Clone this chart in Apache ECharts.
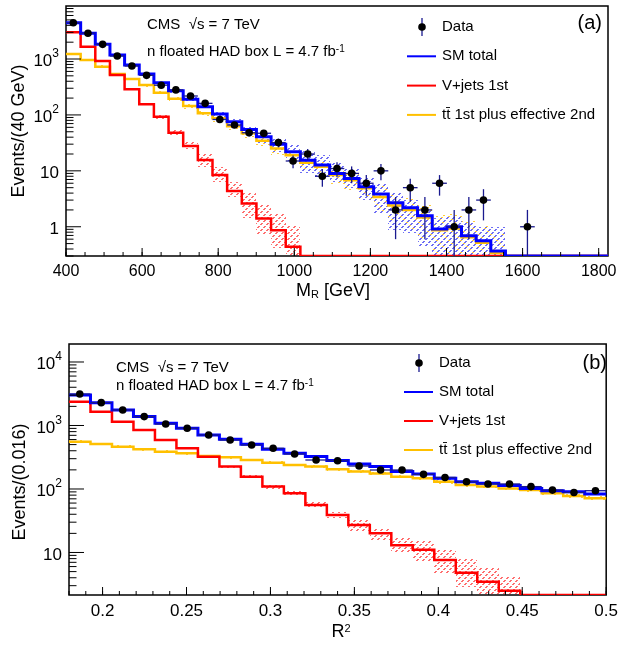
<!DOCTYPE html>
<html>
<head>
<meta charset="utf-8">
<script src="https://cdn.jsdelivr.net/npm/echarts@6/dist/echarts.min.js"></script>
<style>
html,body{margin:0;padding:0;background:#fff;}
#chart{width:621px;height:645px;}
</style>
</head>
<body>
<div id="chart"></div>
<script>
// ---------------- DATA ----------------
// Panel (a): M_R bins
const MR_EDGES = [400, 438.5, 477, 515.5, 554, 592.5, 631, 669.5, 708, 746.5, 785, 823.5, 862, 900.5, 939, 977.5, 1016, 1054.5, 1093, 1131.5, 1170, 1208.5, 1247, 1285.5, 1324, 1362.5, 1401, 1439.5, 1478, 1516.5, 1555, 1593.5, 1632, 1670.5, 1709, 1747.5, 1786, 1824.5];
const MR_DATA = [4460, 2890, 1830, 1130, 750, 510, 340, 280, 218, 161, 83, 66, 48, 47, 32, 15, 20, 8, 11, 9, 6, 10, 2, 5, 2, 6, 1, 2, 3, 0, 0, 1, 0, 0, 0, 0, 0];
const MR_DATA_ERR = [67, 54, 43, 34, 27, 23, 18, 17, 15, 13, 9, 8, 7, 7, 5.7, 3.9, 4.5, 2.8, 3.3, 3, 2.4, 3.2, 1.4, 2.2, 1.4, 2.4, 1, 1.4, 1.7, 0, 0, 1, 0, 0, 0, 0, 0];
const MR_SM = [4450, 2890, 1830, 1180, 780, 540, 377, 271, 190, 140, 104, 75.5, 55, 40.7, 30, 22, 15.5, 12.7, 9.0, 7.3, 5.2, 3.85, 2.69, 2.19, 1.57, 0.91, 1.0, 0.69, 0.56, 0.37, 0, 0, 0, 0, 0, 0, 0];
const MR_SM_LO = [4250, 2750, 1740, 1120, 740, 510, 350, 250, 174, 126, 92, 66, 47, 32, 22, 15, 9, 7.8, 6.4, 4.9, 3.0, 1.74, 0.87, 0.76, 0.44, 0.1, 0.1, 0.1, 0.1, 0.1, null, null, null, null, null, null, null];
const MR_SM_HI = [4650, 3030, 1920, 1240, 820, 570, 405, 292, 206, 154, 116, 86, 63, 50, 38, 30, 24, 19, 13.7, 11, 7.8, 6.0, 3.96, 3.0, 1.99, 1.41, 1.5, 1.15, 1.0, 1.0, null, null, null, null, null, null, null];
const MR_V = [3000, 1660, 920, 517, 287, 155, 93, 48, 27.8, 15.6, 8.4, 4.35, 2.6, 1.41, 0.87, 0.44, 0, 0, 0, 0, 0, 0, 0, 0, 0, 0, 0, 0, 0, 0, 0, 0, 0, 0, 0, 0, 0];
const MR_V_LO = [2900, 1600, 880, 495, 272, 146, 86, 42, 24.3, 11.8, 6.4, 3.44, 1.41, 0.71, 0.41, 0.1, null, null, null, null, null, null, null, null, null, null, null, null, null, null, null, null, null, null, null, null, null];
const MR_V_HI = [3100, 1720, 960, 540, 302, 165, 101, 57, 33, 20.6, 11.8, 6.4, 4.2, 2.44, 1.74, 1.07, null, null, null, null, null, null, null, null, null, null, null, null, null, null, null, null, null, null, null, null, null];
const MR_TT = [1230, 960, 728, 540, 439, 343, 250, 195, 144, 107, 87, 63, 47, 34.5, 25, 19, 14, 11.8, 8.4, 6.8, 4.9, 3.4, 2.4, 2.0, 1.47, 0.87, 0.93, 0.65, 0.52, 0.34, 0, 0, 0, 0, 0, 0, 0];
const MR_TT_LO = [1170, 910, 690, 510, 415, 322, 232, 180, 130, 95, 76, 54, 39, 28, 19.5, 14.5, 10, 8, 5.8, 4.5, 3.0, 1.9, 1.2, 0.9, 0.6, 0.2, 0.2, 0.15, 0.1, 0.1, null, null, null, null, null, null, null];
const MR_TT_HI = [1290, 1010, 766, 570, 463, 364, 268, 210, 158, 119, 98, 72, 55, 41, 31, 24, 18.5, 15.5, 11.5, 9.5, 7.2, 5.3, 3.8, 3.3, 2.5, 1.6, 1.7, 1.25, 1.05, 0.8, null, null, null, null, null, null, null];
const MR_TICKS = [400, 600, 800, 1000, 1200, 1400, 1600, 1800];

// Panel (b): R^2 bins
const R2_EDGES = [0.18, 0.1928, 0.2056, 0.2184, 0.2312, 0.244, 0.2568, 0.2696, 0.2824, 0.2952, 0.308, 0.3208, 0.3336, 0.3464, 0.3592, 0.372, 0.3848, 0.3976, 0.4104, 0.4232, 0.436, 0.4488, 0.4616, 0.4744, 0.4872, 0.5];
const R2_DATA = [3130, 2290, 1750, 1380, 1056, 904, 708, 591, 493, 437, 356, 286, 279, 230, 199, 199, 170, 152, 130, 120, 120, 109, 96, 88, 94];
const R2_DATA_ERR = [56, 48, 42, 37, 32, 30, 27, 24, 22, 21, 19, 17, 17, 15, 14, 14, 13, 12, 11, 11, 11, 10, 10, 9, 10];
const R2_SM = [3020, 2290, 1750, 1380, 1080, 904, 708, 608, 507, 422, 365, 324, 280, 248, 225, 188, 172, 147, 130, 123, 113, 102, 94, 90.6, 83];
const R2_SM_LO = [2900, 2200, 1680, 1325, 1037, 868, 680, 584, 487, 405, 350, 311, 269, 238, 216, 180, 165, 141, 125, 118, 108, 98, 90, 87, 79.5];
const R2_SM_HI = [3140, 2380, 1820, 1435, 1123, 940, 736, 632, 527, 439, 380, 337, 291, 258, 234, 196, 179, 153, 135, 128, 118, 106, 98, 94, 86.5];
const R2_V = [2370, 1650, 1147, 849, 591, 437, 323, 225, 156, 109, 85.5, 56, 39, 27, 20, 13, 11, 7.6, 4.8, 3.47, 2.5, 0, 0, 0, 0];
const R2_V_LO = [2300, 1600, 1110, 820, 570, 420, 310, 214, 147, 101, 78, 50, 34.5, 21.3, 15.7, 9.7, 7.2, 4.7, 2.9, 0.1, 0.1, null, null, null, null];
const R2_V_HI = [2440, 1700, 1185, 880, 612, 455, 337, 236, 165, 117, 93, 63, 44, 32.5, 23.2, 16.8, 15.7, 10.9, 8.1, 5.6, 4.2, null, null, null, null];
const R2_TT = [556, 512, 464, 422, 387, 365, 331, 315, 286, 260, 239, 225, 204, 188, 176, 156, 147, 130, 116, 109, 102, 96, 85.5, 77.6, 71.5];
const R2_TT_LO = [530, 488, 442, 402, 368, 347, 315, 300, 272, 247, 227, 213, 193, 178, 166, 147, 138, 122, 109, 102, 95, 89, 79, 72, 66];
const R2_TT_HI = [582, 536, 486, 442, 406, 383, 347, 330, 300, 273, 251, 237, 215, 198, 186, 165, 156, 138, 123, 116, 109, 103, 92, 83, 77];
const R2_TICKS = [0.2, 0.25, 0.3, 0.35, 0.4, 0.45, 0.5];

// ---------------- STYLE ----------------
const FONT = '"Liberation Sans", Arial, Helvetica, sans-serif';
const BLUE = '#0000ff', RED = '#ff0000', GOLD = '#ffc000', BAR = '#1a1a8f';
const AX = [
  {xMin: 400, xMax: 1824.5, yMin: 0.3, yMax: 8870, xMinorStep: 50, xMajor: MR_TICKS},
  {xMin: 0.18, xMax: 0.5, yMin: 2.14, yMax: 19200, xMinorStep: 0.01, xMajor: R2_TICKS}
];

// pixel-exact hatch tile: "/" dashed lines, 2 px thick, light tint
function pixelHatch(rgb, keep) {
  const N = 12;
  const c = document.createElement('canvas');
  c.width = N; c.height = N;
  const g = c.getContext('2d');
  const img = g.createImageData(N, N);
  for (let y = 0; y < N; y++) {
    for (let x = 0; x < N; x++) {
      const m = (x + y) % 6;
      if ((m === 4 || m === 5) && keep(x, y)) {
        const k = (y * N + x) * 4;
        img.data[k] = rgb[0]; img.data[k + 1] = rgb[1]; img.data[k + 2] = rgb[2]; img.data[k + 3] = 255;
      }
    }
  }
  g.putImageData(img, 0, 0);
  return {image: c, repeat: 'repeat'};
}
const HATCH_RED = pixelHatch([255, 110, 110], (x, y) => (x - y + 12) % 6 < 4);
const HATCH_BLUE = pixelHatch([110, 110, 245], (x, y) => (x - y + 12) % 6 < 4);
const HATCH_GOLD = pixelHatch([255, 205, 60], (x, y) => (x - y + 12) % 4 < 2);

function clampY(v, lo) { return (v == null || !(v > lo)) ? lo : v; }

function histSeries(gi, edges, vals, color, lw, z) {
  const yMin = AX[gi].yMin;
  return {
    type: 'custom', xAxisIndex: gi, yAxisIndex: gi, z: z, clip: true, silent: true,
    data: vals.map((v, i) => [(edges[i] + edges[i + 1]) / 2, clampY(v, yMin)]),
    encode: {x: 0, y: 1},
    renderItem: function (p, api) {
      if (p.dataIndex !== 0) return null;
      const pts = [];
      for (let i = 0; i < vals.length; i++) {
        const v = clampY(vals[i], yMin);
        pts.push(api.coord([edges[i], v]));
        pts.push(api.coord([edges[i + 1], v]));
      }
      return {type: 'polyline', shape: {points: pts},
        style: {stroke: color, lineWidth: lw, fill: null, lineJoin: 'miter'}};
    }
  };
}

function bandSeries(gi, edges, lo, hi, pattern, z) {
  const yMin = AX[gi].yMin;
  return {
    type: 'custom', xAxisIndex: gi, yAxisIndex: gi, z: z, clip: true, silent: true,
    data: hi.map((v, i) => [(edges[i] + edges[i + 1]) / 2, clampY(v, yMin)]),
    encode: {x: 0, y: 1},
    renderItem: function (p, api) {
      const i = p.dataIndex;
      if (hi[i] == null) return null;
      const a = api.coord([edges[i], hi[i]]);
      const b = api.coord([edges[i + 1], clampY(lo[i], yMin)]);
      const x0 = Math.round(a[0]), y0 = Math.round(a[1]), x1 = Math.round(b[0]), y1 = Math.round(b[1]);
      return {type: 'rect', shape: {x: x0, y: y0, width: x1 - x0, height: y1 - y0},
        style: {fill: pattern, stroke: null}};
    }
  };
}

function dataSeries(gi, edges, vals, errs) {
  const yMin = AX[gi].yMin;
  return {
    type: 'custom', xAxisIndex: gi, yAxisIndex: gi, z: 10, clip: true, silent: true,
    data: vals.map((v, i) => [(edges[i] + edges[i + 1]) / 2, clampY(v, yMin)]),
    encode: {x: 0, y: 1},
    renderItem: function (p, api) {
      const i = p.dataIndex;
      const v = vals[i];
      if (!(v > 0)) return null;
      const xc = (edges[i] + edges[i + 1]) / 2;
      const c = api.coord([xc, v]);
      const t = api.coord([xc, v + errs[i]]);
      const b = api.coord([xc, clampY(v - errs[i], yMin)]);
      const l = api.coord([edges[i], v]);
      const r = api.coord([edges[i + 1], v]);
      return {type: 'group', children: [
        {type: 'line', shape: {x1: c[0], y1: t[1], x2: c[0], y2: b[1]}, style: {stroke: BAR, lineWidth: 1.3}},
        {type: 'line', shape: {x1: l[0], y1: c[1], x2: r[0], y2: c[1]}, style: {stroke: BAR, lineWidth: 1.3}},
        {type: 'circle', shape: {cx: c[0], cy: c[1], r: 3.8}, style: {fill: '#000'}}
      ]};
    }
  };
}

function tickSeries(gi) {
  const ax = AX[gi];
  return {
    type: 'custom', xAxisIndex: gi, yAxisIndex: gi, z: 20, clip: false, silent: true,
    data: [[ax.xMin, ax.yMin]],
    encode: {x: 0, y: 1},
    renderItem: function (p, api) {
      const ch = [];
      const st = {stroke: '#000', lineWidth: 1};
      const nMinor = Math.round((ax.xMax - ax.xMin) / ax.xMinorStep);
      for (let k = 0; k <= nMinor; k++) {
        const x = ax.xMin + k * ax.xMinorStep;
        const q = api.coord([x, ax.yMin]);
        ch.push({type: 'line', shape: {x1: q[0], y1: q[1], x2: q[0], y2: q[1] - 4}, style: st});
      }
      ax.xMajor.forEach(function (x) {
        const q = api.coord([x, ax.yMin]);
        ch.push({type: 'line', shape: {x1: q[0], y1: q[1], x2: q[0], y2: q[1] - 8}, style: st});
      });
      const e0 = Math.floor(Math.log10(ax.yMin)), e1 = Math.ceil(Math.log10(ax.yMax));
      for (let e = e0; e <= e1; e++) {
        for (let m = 1; m <= 9; m++) {
          const v = m * Math.pow(10, e);
          if (v < ax.yMin || v > ax.yMax) continue;
          const q = api.coord([ax.xMin, v]);
          const len = m === 1 ? 15 : 7.5;
          ch.push({type: 'line', shape: {x1: q[0], y1: q[1], x2: q[0] + len, y2: q[1]}, style: st});
        }
      }
      return {type: 'group', children: ch};
    }
  };
}

function yLabel(v) {
  const e = Math.round(Math.log10(v));
  if (e === 0) return '{b|1}';
  if (e === 1) return '{b|10}';
  return '{b|10}{sup|' + e + '}';
}
const Y_RICH = {
  b: {fontSize: 17, lineHeight: 22, fontFamily: FONT, color: '#000', verticalAlign: 'bottom'},
  sup: {fontSize: 12, lineHeight: 12, fontFamily: FONT, color: '#000', verticalAlign: 'top'}
};

function txt(x, y, text, opt) {
  opt = opt || {};
  return {type: 'text', x: x, y: y, rotation: opt.rotation || 0, z: 100,
    style: {text: text, fontSize: opt.size || 15, fontFamily: FONT, fill: '#000',
      align: opt.align || 'left', verticalAlign: 'middle', rich: opt.rich}};
}
const SUP_RICH = {sup: {fontSize: 10, fontFamily: FONT, fill: '#000', verticalAlign: 'top', lineHeight: 10}};

function legendBlock(x0, y0, dy) {
  const els = [];
  els.push({type: 'line', shape: {x1: x0 + 15, y1: y0 - 9, x2: x0 + 15, y2: y0 + 9}, style: {stroke: BAR, lineWidth: 1.3}, z: 100});
  els.push({type: 'circle', shape: {cx: x0 + 15, cy: y0, r: 3.8}, style: {fill: '#000'}, z: 100});
  els.push(txt(x0 + 35, y0, 'Data'));
  const items = [['SM total', BLUE], ['V+jets 1st', RED], ['tt\u0304 1st plus effective 2nd', GOLD]];
  items.forEach(function (it, k) {
    const y = y0 + dy * (k + 1);
    els.push({type: 'line', shape: {x1: x0, y1: y, x2: x0 + 29, y2: y}, style: {stroke: it[1], lineWidth: 2}, z: 100});
    els.push(txt(x0 + 35, y, it[0]));
  });
  return els;
}

const chart = echarts.init(document.getElementById('chart'), null, {renderer: 'canvas'});
const option = {
  backgroundColor: '#fff',
  animation: false,
  grid: [
    {left: 66, top: 6, width: 542, height: 250, show: true, borderColor: '#000', borderWidth: 1.5, backgroundColor: 'transparent'},
    {left: 69, top: 344, width: 541, height: 251, show: true, borderColor: '#000', borderWidth: 1.5, backgroundColor: 'transparent'}
  ],
  xAxis: [
    {type: 'value', gridIndex: 0, min: 400, max: 1824.5, interval: 200,
      axisLine: {show: false}, axisTick: {show: false}, splitLine: {show: false},
      axisLabel: {showMaxLabel: false, margin: 8, fontSize: 16, fontFamily: FONT, color: '#000',
        formatter: function (v) { return (Math.abs(v % 200) < 1e-6) ? String(v) : ''; }}},
    {type: 'value', gridIndex: 1, min: 0.18, max: 0.5, interval: 0.01,
      axisLine: {show: false}, axisTick: {show: false}, splitLine: {show: false},
      axisLabel: {margin: 8, fontSize: 17, fontFamily: FONT, color: '#000',
        formatter: function (v) { const k = Math.round(v * 100); return (k % 5 === 0) ? String(k / 100) : ''; }}}
  ],
  yAxis: [
    {type: 'log', logBase: 10, gridIndex: 0, min: AX[0].yMin, max: AX[0].yMax,
      axisLine: {show: false}, axisTick: {show: false}, splitLine: {show: false}, minorTick: {show: false},
      axisLabel: {showMinLabel: false, showMaxLabel: false, margin: 7, formatter: yLabel, rich: Y_RICH}},
    {type: 'log', logBase: 10, gridIndex: 1, min: AX[1].yMin, max: AX[1].yMax,
      axisLine: {show: false}, axisTick: {show: false}, splitLine: {show: false}, minorTick: {show: false},
      axisLabel: {showMinLabel: false, showMaxLabel: false, margin: 7, formatter: yLabel, rich: Y_RICH}}
  ],
  series: [
    bandSeries(0, MR_EDGES, MR_TT_LO, MR_TT_HI, HATCH_GOLD, 2),
    bandSeries(0, MR_EDGES, MR_SM_LO, MR_SM_HI, HATCH_BLUE, 3),
    bandSeries(0, MR_EDGES, MR_V_LO, MR_V_HI, HATCH_RED, 4),
    histSeries(0, MR_EDGES, MR_TT, GOLD, 2.5, 5),
    histSeries(0, MR_EDGES, MR_V, RED, 2.5, 6),
    histSeries(0, MR_EDGES, MR_SM, BLUE, 3, 7),
    dataSeries(0, MR_EDGES, MR_DATA, MR_DATA_ERR),
    tickSeries(0),
    bandSeries(1, R2_EDGES, R2_TT_LO, R2_TT_HI, HATCH_GOLD, 2),
    bandSeries(1, R2_EDGES, R2_SM_LO, R2_SM_HI, HATCH_BLUE, 3),
    bandSeries(1, R2_EDGES, R2_V_LO, R2_V_HI, HATCH_RED, 4),
    histSeries(1, R2_EDGES, R2_TT, GOLD, 2.5, 5),
    histSeries(1, R2_EDGES, R2_V, RED, 2.5, 6),
    histSeries(1, R2_EDGES, R2_SM, BLUE, 3, 7),
    dataSeries(1, R2_EDGES, R2_DATA, R2_DATA_ERR),
    tickSeries(1)
  ],
  graphic: [].concat(
    [
      txt(147, 25, 'CMS  \u221As = 7 TeV'),
      txt(147, 52, 'n floated HAD box L = 4.7 fb{sup|-1}', {rich: SUP_RICH}),
      txt(602, 23, '(a)', {size: 20, align: 'right'}),
      txt(19, 131, 'Events/(40 GeV)', {size: 18, align: 'center', rotation: Math.PI / 2}),
      txt(333, 291, 'M{sub|R} [GeV]', {size: 18, align: 'center',
        rich: {sub: {fontSize: 11, fontFamily: FONT, fill: '#000', verticalAlign: 'bottom', lineHeight: 11}}}),
      txt(116, 368, 'CMS  \u221As = 7 TeV'),
      txt(116, 386, 'n floated HAD box L = 4.7 fb{sup|-1}', {rich: SUP_RICH}),
      txt(607, 363, '(b)', {size: 20, align: 'right'}),
      txt(20, 482, 'Events/(0.016)', {size: 18, align: 'center', rotation: Math.PI / 2}),
      txt(341, 632, 'R{sup|2}', {size: 18, align: 'center',
        rich: {sup: {fontSize: 11, fontFamily: FONT, fill: '#000', verticalAlign: 'top', lineHeight: 11}}})
    ],
    legendBlock(407, 27, 29.3),
    legendBlock(404, 363, 29)
  )
};
chart.setOption(option);
</script>
</body>
</html>
